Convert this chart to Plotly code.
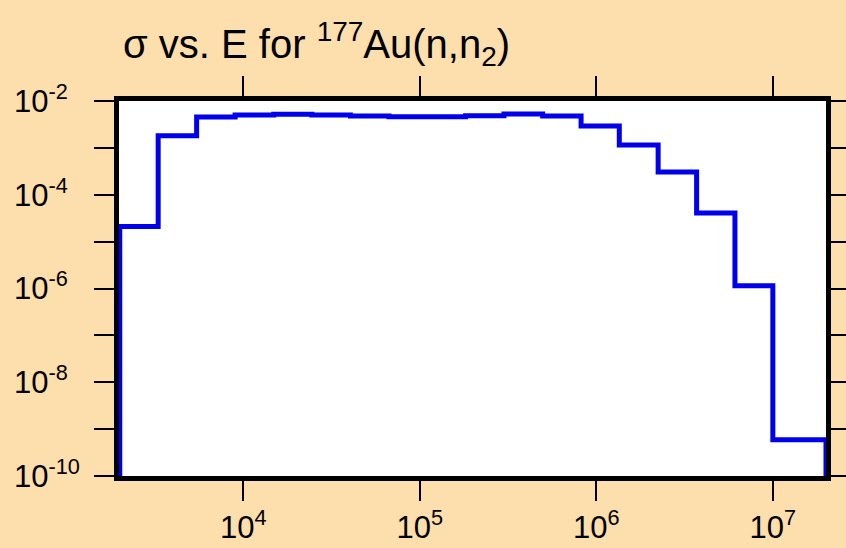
import plotly.graph_objects as go
import math

# Bin edges (energy, eV) and cross sections (b)
bin_edges = [2.0e3, 3.3e3, 5.45e3, 9.0e3, 1.49e4, 2.45e4, 4.05e4, 6.7e4, 1.1e5,
             1.82e5, 3.0e5, 4.97e5, 8.2e5, 1.35e6, 2.24e6, 3.7e6, 6.1e6, 1.0e7, 2.0e7]
sigma = [2.1e-5, 1.82e-3, 4.56e-3, 5.03e-3, 5.2e-3, 5.03e-3, 4.79e-3, 4.6e-3, 4.62e-3,
         4.85e-3, 5.28e-3, 4.79e-3, 2.93e-3, 1.15e-3, 3.05e-4, 4.1e-5, 1.15e-6, 5.9e-10]
floor_value = 1e-11

x_ticks = [1e4, 1e5, 1e6, 1e7]
x_ticktext = ['10<sup>4</sup>', '10<sup>5</sup>', '10<sup>6</sup>', '10<sup>7</sup>']
y_ticks = [1e-2, 1e-3, 1e-4, 1e-5, 1e-6, 1e-7, 1e-8, 1e-9, 1e-10]
pad = '&nbsp;&nbsp;'
y_ticktext = ['10<sup>-2' + pad + '</sup>', '', '10<sup>-4' + pad + '</sup>', '',
              '10<sup>-6' + pad + '</sup>', '', '10<sup>-8' + pad + '</sup>', '',
              '10<sup>-10</sup>']

xs = [bin_edges[0]] + bin_edges[:-1] + [bin_edges[-1]]
ys = [floor_value] + sigma + [floor_value]

fig = go.Figure()
fig.add_trace(go.Scatter(x=xs, y=ys, mode='lines', line=dict(color='#0000EA', width=5, shape='hv'),
                         showlegend=False, hoverinfo='skip'))

font_family = 'Liberation Sans, Arial, sans-serif'
bg = '#FDDEAD'

fig.update_layout(
    width=846, height=548, autosize=False,
    paper_bgcolor=bg, plot_bgcolor='white',
    margin=dict(l=119, r=20, t=101, b=72, autoexpand=False),
    title=dict(text='σ vs. E for <sup>177</sup>Au(n,n<sub>2</sub>)',
               font=dict(family=font_family, size=40, color='black'),
               x=123/846, xanchor='left', xref='container',
               y=1-43.5/548, yanchor='middle', yref='container'),
    xaxis=dict(type='log', range=[math.log10(1.98e3), math.log10(2.0e7)],
               tickmode='array', tickvals=x_ticks, ticktext=x_ticktext,
               ticks='outside', ticklen=20, tickwidth=2, tickcolor='black',
               showline=True, linecolor='black', linewidth=5, mirror='ticks',
               showgrid=False, zeroline=False, automargin=False,
               tickfont=dict(family=font_family, size=31, color='black')),
    yaxis=dict(type='log', range=[-10, -2],
               tickmode='array', tickvals=y_ticks, ticktext=y_ticktext,
               ticks='outside', ticklen=20, tickwidth=2, tickcolor='black',
               showline=True, linecolor='black', linewidth=5, mirror='ticks',
               showgrid=False, zeroline=False, automargin=False,
               ticklabelstandoff=8,
               tickfont=dict(family=font_family, size=31, color='black')),
)

fig.write_html('out.html', config={'responsive': False, 'displayModeBar': False},
               post_script="document.body.style.margin='0px';document.body.style.overflow='hidden';")
